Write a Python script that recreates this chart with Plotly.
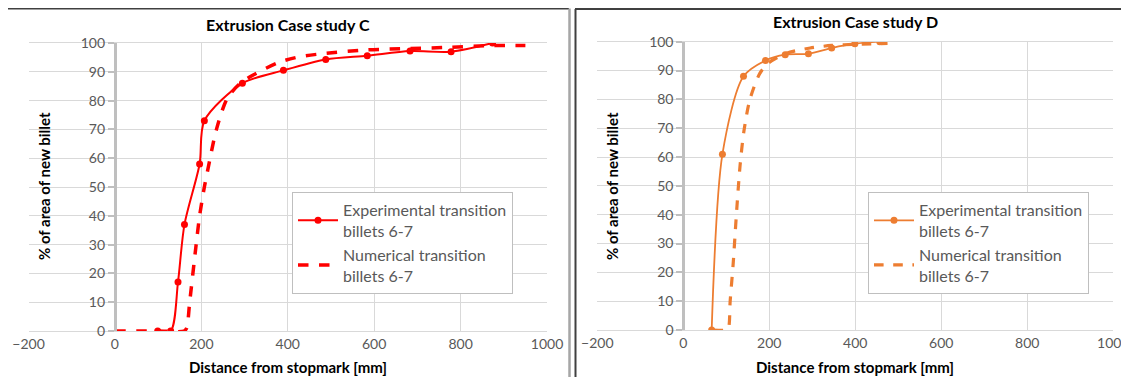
import plotly.graph_objects as go

# page body has an 8px default margin: size the figure to fill the rest of the window
OFF = 8
W, H = 1129 - OFF, 377 - OFF

# ---------------- data ----------------
c_exp_x = [99, 129, 146, 161, 196, 207, 295, 390, 488, 584, 683, 778, 874]
c_exp_y = [0, 0, 17, 37, 58, 73, 86, 90.5, 94.3, 95.6, 97.2, 97.0, 100]
c_num_x = [0, 100, 160, 166, 173, 188, 196, 207, 215, 235, 260, 290, 320, 380, 430, 488, 584, 683, 777, 874, 950]
c_num_y = [0, 0, 0, 1, 10, 30, 40, 50, 56, 70, 80.8, 86, 88.9, 93.3, 95.3, 96.4, 97.6, 98.1, 98.5, 99.1, 99.1]

d_exp_x = [66, 91, 140, 191, 237, 291, 345, 399, 457]
d_exp_y = [0, 61, 88, 93.5, 95.5, 95.8, 97.8, 99.3, 100]
d_num_x = [70, 100, 105, 109, 116, 123, 132, 141, 155, 178, 198, 240, 295, 345, 400, 475]
d_num_y = [0, 0, 0.6, 10, 23, 39, 57, 69, 80, 89, 92.6, 96, 97.8, 98.7, 99.1, 99.4]

x_ticks = [-200, 0, 200, 400, 600, 800, 1000]
y_ticks = [0, 10, 20, 30, 40, 50, 60, 70, 80, 90, 100]

titles = ["Extrusion Case study C", "Extrusion Case study D"]
exp_name = "Experimental transition<br>billets 6-7"
num_name = "Numerical transition<br>billets 6-7"
x_title = "Distance from stopmark [mm]"
y_title = "% of area of new billet"

RED = "#FF0000"
ORANGE = "#ED7D31"
FONT = "Lato"

def px(x):
    return max(0.0, (x - OFF) / W)

def py(y):
    return min(1.0, 1 - (y - OFF) / H)

fig = go.Figure()

# ---- left chart ----
fig.add_trace(go.Scatter(x=c_exp_x, y=c_exp_y, name=exp_name, mode="lines+markers",
                         line=dict(color=RED, width=2, shape="spline", smoothing=0.8),
                         marker=dict(size=7, color=RED), xaxis="x", yaxis="y", legend="legend"))
fig.add_trace(go.Scatter(x=c_num_x, y=c_num_y, name=num_name, mode="lines",
                         line=dict(color=RED, width=3.5, dash="dash", shape="spline", smoothing=0.8),
                         xaxis="x", yaxis="y", legend="legend"))
# ---- right chart ----
fig.add_trace(go.Scatter(x=d_exp_x, y=d_exp_y, name=exp_name, mode="lines+markers",
                         line=dict(color=ORANGE, width=1.8, shape="spline", smoothing=0.8),
                         marker=dict(size=7, color=ORANGE), xaxis="x2", yaxis="y2", legend="legend2"))
fig.add_trace(go.Scatter(x=d_num_x, y=d_num_y, name=num_name, mode="lines",
                         line=dict(color=ORANGE, width=3.2, dash="dash", shape="spline", smoothing=0.8),
                         xaxis="x2", yaxis="y2", legend="legend2"))

GRID = "#D9D9D9"
TICKC = "#595959"

dom_l = [px(28.5), px(547)]
dom_r = [px(597.3), px(1113.3)]
ydom_l = [py(331), py(43)]
ydom_r = [py(330), py(41.7)]

def xaxis(dom, anchor):
    return dict(domain=dom, range=[-200, 1000], tickvals=x_ticks, anchor=anchor,
                showgrid=True, gridcolor=GRID, gridwidth=1, zeroline=False,
                showline=True, linecolor=GRID, linewidth=1, mirror=True, automargin=False,
                ticklabeloverflow="allow",
                ticks="", tickfont=dict(family=FONT, size=14, color=TICKC), fixedrange=True)

def yaxis(dom, xdom):
    pos = xdom[0] + (xdom[1] - xdom[0]) * (200 / 1200)
    return dict(domain=dom, range=[0, 100], tickvals=y_ticks, anchor="free", position=pos,
                showgrid=True, gridcolor=GRID, gridwidth=1, zeroline=False, automargin=False,
                showline=True, linecolor="#BFBFBF", linewidth=3,
                ticks="outside", ticklen=6, tickwidth=2, tickcolor="#BFBFBF",
                tickfont=dict(family=FONT, size=14, color=TICKC), fixedrange=True)

legend_common = dict(bgcolor="white", bordercolor="#BFBFBF", borderwidth=1,
                     font=dict(family=FONT, size=16, color="#595959"),
                     xanchor="left", yanchor="top", itemwidth=40, tracegroupgap=2,
                     xref="paper", yref="paper")

annotations = []
for i, (xd, cy) in enumerate([(dom_l, 24), (dom_r, 22)]):
    cx = (xd[0] + xd[1]) / 2
    annotations.append(dict(text="<b>" + titles[i] + "</b>", x=cx, y=py(cy), xref="paper", yref="paper",
                            xanchor="center", yanchor="middle",
                            showarrow=False, font=dict(family=FONT, size=16, color="black")))
    annotations.append(dict(text="<b>" + x_title + "</b>", x=cx, y=py(367), xref="paper", yref="paper",
                            xanchor="center", yanchor="middle",
                            showarrow=False, font=dict(family=FONT, size=15, color="black")))
for xpix in (44, 612):
    annotations.append(dict(text="<b>" + y_title + "</b>", x=px(xpix), y=py(186), xref="paper", yref="paper",
                            xanchor="center", yanchor="middle",
                            textangle=-90, showarrow=False, font=dict(family=FONT, size=15, color="black")))

BORDER = "#404040"
shapes = [
    dict(type="line", xref="paper", yref="paper", x0=px(8), x1=px(569), y0=py(8.5), y1=py(8.5),
         line=dict(color=BORDER, width=2)),
    dict(type="line", xref="paper", yref="paper", x0=px(569.5), x1=px(569.5), y0=py(8.5), y1=0,
         line=dict(color="#A6A6A6", width=2.5)),
    dict(type="line", xref="paper", yref="paper", x0=px(575.5), x1=px(575.5), y0=py(9), y1=0,
         line=dict(color=BORDER, width=2)),
    dict(type="line", xref="paper", yref="paper", x0=px(575), x1=1, y0=py(9), y1=py(9),
         line=dict(color=BORDER, width=2)),
]

fig.update_layout(
    width=W, height=H, margin=dict(l=0, r=0, t=0, b=0, pad=0, autoexpand=False),
    paper_bgcolor="white", plot_bgcolor="white",
    font=dict(family=FONT),
    xaxis=xaxis(dom_l, "y"), yaxis=yaxis(ydom_l, dom_l),
    xaxis2=xaxis(dom_r, "y2"), yaxis2=yaxis(ydom_r, dom_r),
    legend=dict(x=px(292), y=py(192), **legend_common),
    legend2=dict(x=px(868), y=py(192), **legend_common),
    annotations=annotations, shapes=shapes, showlegend=True,
)

fig.write_html("out.html")
